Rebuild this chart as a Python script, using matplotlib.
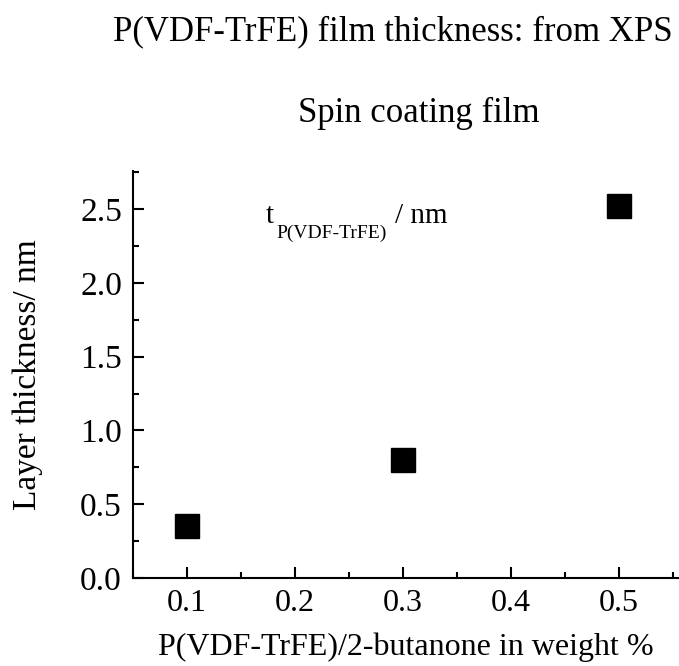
import numpy as np
import matplotlib
matplotlib.use('Agg')
import matplotlib.pyplot as plt
from matplotlib.ticker import MultipleLocator

plt.rcParams['font.family'] = ['Liberation Serif', 'DejaVu Serif']

# Data
conc = [0.1, 0.3, 0.5]           # P(VDF-TrFE)/2-butanone, wt %
thick = [0.35, 0.80, 2.52]       # layer thickness, nm
xticks = [0.1, 0.2, 0.3, 0.4, 0.5]
xticklabels = ['0.1', '0.2', '0.3', '0.4', '0.5']

fig = plt.figure(figsize=(6.79, 6.66), dpi=100)
ax = fig.add_axes([0.1959, 0.1321, 0.8041, 0.6117])

ax.plot(conc, thick, linestyle='none', marker='s', markersize=17,
        color='black', markeredgecolor='black')

ax.set_xlim(0.05, 0.556)
ax.set_ylim(0, 2.76)

ax.set_xticks(xticks)
ax.set_xticklabels(xticklabels)
ax.xaxis.set_minor_locator(MultipleLocator(0.05))
ax.yaxis.set_major_locator(MultipleLocator(0.5))
ax.yaxis.set_minor_locator(MultipleLocator(0.25))

for s in ['top', 'right']:
    ax.spines[s].set_visible(False)
for s in ['left', 'bottom']:
    ax.spines[s].set_linewidth(1.5)

ax.tick_params(which='major', direction='in', length=8, width=1.5, pad=8)
ax.tick_params(axis='x', which='major', labelsize=23)
ax.tick_params(axis='y', which='major', labelsize=24)
ax.tick_params(which='minor', direction='in', length=4.3, width=1.5)

ax.set_xlabel('P(VDF-TrFE)/2-butanone in weight %', fontsize=23, labelpad=10)
ax.set_ylabel('Layer thickness/ nm', fontsize=24, labelpad=27)

# titles
fig.text(0.579, 0.94, 'P(VDF-TrFE) film thickness: from XPS', fontsize=25,
         ha='center', va='baseline')
fig.text(0.616, 0.817, 'Spin coating film', fontsize=25, ha='center', va='baseline')

# annotation inside the axes
ax.text(0.2436, 0.871, 't', fontsize=21, transform=ax.transAxes, ha='left', va='baseline')
ax.text(0.262, 0.8346, 'P(VDF-TrFE)', fontsize=14, transform=ax.transAxes, ha='left', va='baseline')
ax.text(0.480, 0.871, '/ nm', fontsize=21, transform=ax.transAxes, ha='left', va='baseline')

plt.savefig('out.png', dpi=100)
